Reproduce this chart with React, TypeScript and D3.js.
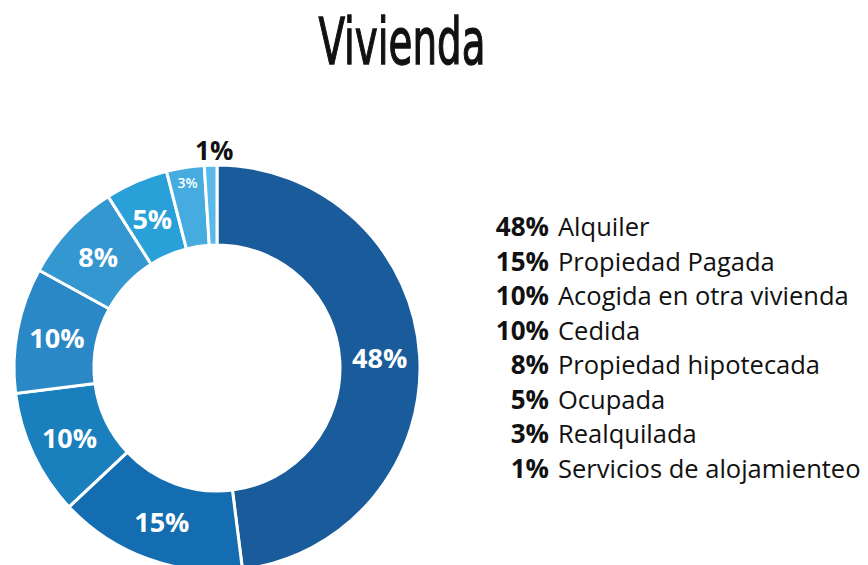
import React from "react";
import * as d3 from "d3";

const categories = [
  "Alquiler",
  "Propiedad Pagada",
  "Acogida en otra vivienda",
  "Cedida",
  "Propiedad hipotecada",
  "Ocupada",
  "Realquilada",
  "Servicios de alojamienteo",
];
const values = [48, 15, 10, 10, 8, 5, 3, 1];
const colors = ["#1a5c9b", "#146db0", "#1a7fbd", "#2a88c7", "#3597d0", "#2aa0d8", "#46ace0", "#5ab9e8"];
const title = "Vivienda";

const W = 868;
const H = 565;

export default function App() {
  const cx = 217;
  const cy = 368;
  const rOuter = 203;
  const rInner = 123;
  const pie = d3.pie<number>().sort(null).value((d) => d);
  const arcs = pie(values);
  const arc = d3.arc<d3.PieArcDatum<number>>().innerRadius(rInner).outerRadius(rOuter);
  const labelArc = d3.arc<d3.PieArcDatum<number>>().innerRadius(rInner).outerRadius(rOuter);
  const smallArc = d3.arc<d3.PieArcDatum<number>>().innerRadius(188).outerRadius(188);
  const outerLabel = d3.arc<d3.PieArcDatum<number>>().innerRadius(rOuter + 15).outerRadius(rOuter + 15);

  const legendX = 549;
  const legendY0 = 236;
  const legendStep = 34.5;

  return (
    <svg width={W} height={H} style={{ position: "absolute", left: 0, top: 0 }} fontFamily="'Open Sans', sans-serif">
      <rect width={W} height={H} fill="#fff" />
      <text
        x={402}
        y={64}
        textAnchor="middle"
        fontFamily="'Liberation Sans Narrow', 'DejaVu Sans Condensed', sans-serif"
        fontSize={64}
        textLength={167}
        lengthAdjust="spacingAndGlyphs"
        fill="#111"
        stroke="#111"
        strokeWidth={1.3}
      >
        {title}
      </text>
      <g transform={`translate(${cx},${cy})`}>
        {arcs.map((a, i) => (
          <path key={i} d={arc(a) || ""} fill={colors[i]} stroke="#fff" strokeWidth={3} />
        ))}
        {arcs.map((a, i) => {
          const v = values[i];
          if (v <= 1) {
            const [x, y] = outerLabel.centroid(a);
            return (
              <text key={"l" + i} x={x + 4} y={y} textAnchor="middle" dominantBaseline="central" fontWeight="bold" fontSize={26} fill="#111">
                {v}%
              </text>
            );
          }
          const small = v <= 3;
          const [x, y] = small ? smallArc.centroid(a) : labelArc.centroid(a);
          return (
            <text
              key={"l" + i}
              x={x}
              y={y}
              textAnchor="middle"
              dominantBaseline="central"
              fontWeight={small ? 600 : "bold"}
              fontSize={small ? 14 : 27}
              fill="#fff"
            >
              {v}%
            </text>
          );
        })}
      </g>
      <g>
        {categories.map((c, i) => (
          <g key={c} transform={`translate(0,${legendY0 + i * legendStep})`}>
            <text x={legendX} textAnchor="end" fontWeight="bold" fontSize={26} fill="#111">
              {values[i]}%
            </text>
            <text x={legendX + 9} fontSize={25.5} fill="#111">
              {c}
            </text>
          </g>
        ))}
      </g>
    </svg>
  );
}
